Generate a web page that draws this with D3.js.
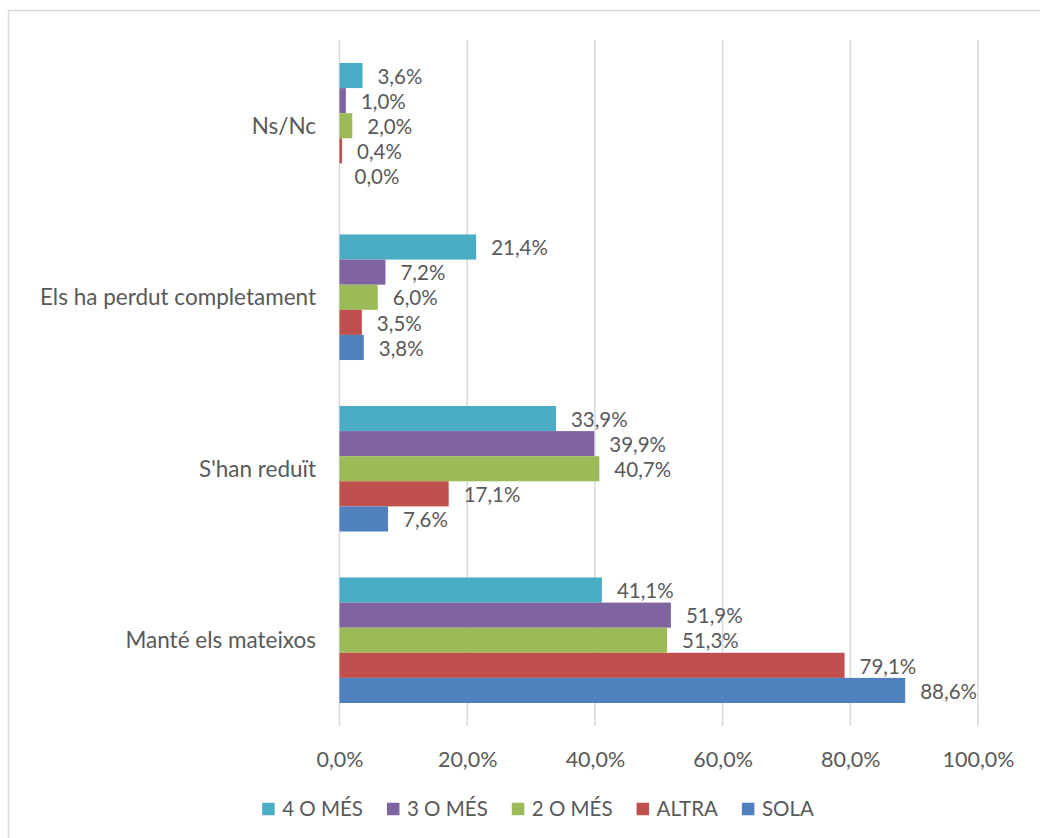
<!DOCTYPE html>
<html>
<head>
<meta charset="utf-8">
<script src="https://cdn.jsdelivr.net/npm/d3@7"></script>
<style>
  html, body { margin: 0; padding: 0; background: #fff; }
  svg { display: block; }
  text { font-family: Lato, "Liberation Sans", sans-serif; fill: #595959; }
</style>
</head>
<body>
<svg id="chart" width="1040" height="838"></svg>
<script>
const categories = ["Ns/Nc", "Els ha perdut completament", "S'han reduït", "Manté els mateixos"];
const seriesNames = ["4 O MÉS", "3 O MÉS", "2 O MÉS", "ALTRA", "SOLA"];
const seriesColors = ["#4bacc6", "#8064a2", "#9bbb59", "#c0504d", "#4f81bd"];
const values4 = [3.6, 21.4, 33.9, 41.1];
const values3 = [1.0, 7.2, 39.9, 51.9];
const values2 = [2.0, 6.0, 40.7, 51.3];
const valuesAltra = [0.4, 3.5, 17.1, 79.1];
const valuesSola = [0.0, 3.8, 7.6, 88.6];
const tickValues = [0, 20, 40, 60, 80, 100];

const seriesValues = [values4, values3, values2, valuesAltra, valuesSola];
const fmt = v => v.toFixed(1).replace(".", ",") + "%";

const svg = d3.select("#chart");
const grid = "#d9d9d9";

// chart border
svg.append("rect").attr("x", 8.5).attr("y", 10.5).attr("width", 1060).attr("height", 860)
  .attr("fill", "none").attr("stroke", grid).attr("stroke-width", 1.5);

const plot = { left: 339.5, right: 978, top: 40, bottom: 726 };

const x = d3.scaleLinear().domain([0, 100]).range([plot.left, plot.right]);
const y0 = d3.scaleBand().domain(categories).range([plot.top, plot.bottom])
  .paddingInner(0.268).paddingOuter(0.134);
const y1 = d3.scaleBand().domain(seriesNames).range([0, y0.bandwidth()]);

// gridlines
svg.append("g").selectAll("line").data(tickValues).join("line")
  .attr("x1", d => x(d)).attr("x2", d => x(d))
  .attr("y1", plot.top).attr("y2", plot.bottom)
  .attr("stroke", grid).attr("stroke-width", 1.5);

// x axis tick labels
const xAxis = d3.axisBottom(x).tickValues(tickValues).tickFormat(fmt).tickSize(0).tickPadding(0);
const gx = svg.append("g").attr("transform", `translate(0, 759)`).call(xAxis);
gx.select(".domain").remove();
gx.selectAll("text").attr("dy", "0.35em").attr("y", 0)
  .style("font-size", "21.5px").style("font-family", "Lato, 'Liberation Sans', sans-serif").attr("fill", "#595959");

// category labels
const yAxis = d3.axisLeft(y0).tickSize(0).tickPadding(0);
const gy = svg.append("g").attr("transform", `translate(316, 0)`).call(yAxis);
gy.select(".domain").remove();
gy.selectAll("text").attr("dy", "0.35em").attr("x", 0)
  .style("font-size", "22.5px").style("font-family", "Lato, 'Liberation Sans', sans-serif").attr("fill", "#595959");

// bars
const rows = [];
categories.forEach((c, ci) => {
  seriesNames.forEach((s, si) => {
    rows.push({ cat: c, series: s, value: seriesValues[si][ci], color: seriesColors[si] });
  });
});

const bars = svg.append("g");
bars.selectAll("rect").data(rows).join("rect")
  .attr("x", x(0))
  .attr("y", d => y0(d.cat) + y1(d.series))
  .attr("width", d => x(d.value) - x(0))
  .attr("height", y1.bandwidth())
  .attr("fill", d => d.color);

// data labels
svg.append("g").selectAll("text").data(rows).join("text")
  .attr("x", d => x(d.value) + 15)
  .attr("y", d => y0(d.cat) + y1(d.series) + y1.bandwidth() / 2 + 1)
  .attr("dy", "0.35em")
  .style("font-size", "20.5px")
  .text(d => fmt(d.value));

// legend
const legend = svg.append("g");
const items = legend.selectAll("g").data(seriesNames).join("g");
items.append("rect").attr("width", 12.5).attr("height", 12.5).attr("y", -6.25)
  .attr("fill", (d, i) => seriesColors[i]);
items.append("text").attr("x", 20).attr("dy", "0.35em").style("font-size", "20.5px").text(d => d);
let lx = 0;
items.each(function () {
  const g = d3.select(this);
  g.attr("transform", `translate(${lx},0)`);
  lx += 20 + g.select("text").node().getComputedTextLength() + 24;
});
const legendWidth = lx - 24;
legend.attr("transform", `translate(${538 - legendWidth / 2}, 809)`);
</script>
</body>
</html>
